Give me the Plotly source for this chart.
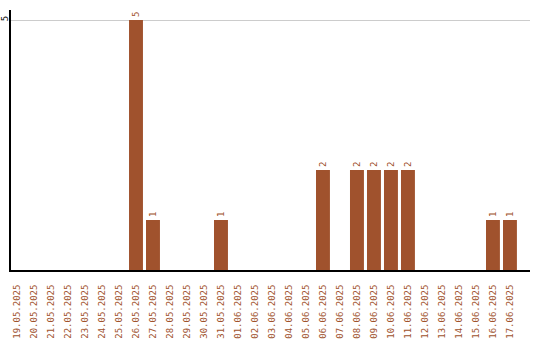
import plotly.graph_objects as go

dates = ["19.05.2025","20.05.2025","21.05.2025","22.05.2025","23.05.2025","24.05.2025",
         "25.05.2025","26.05.2025","27.05.2025","28.05.2025","29.05.2025","30.05.2025",
         "31.05.2025","01.06.2025","02.06.2025","03.06.2025","04.06.2025","05.06.2025",
         "06.06.2025","07.06.2025","08.06.2025","09.06.2025","10.06.2025","11.06.2025",
         "12.06.2025","13.06.2025","14.06.2025","15.06.2025","16.06.2025","17.06.2025"]
counts = [0,0,0,0,0,0,0,5,1,0,0,0,1,0,0,0,0,0,2,0,2,2,2,2,0,0,0,0,1,1]

color = "#A0522D"
labels = [str(v) if v > 0 else "" for v in counts]

fig = go.Figure(go.Bar(
    x=dates, y=counts, marker_color=color, marker_line_width=0,
    width=0.82, text=labels, textposition="outside", textangle=-90,
    textfont=dict(color=color, size=9, family="DejaVu Sans Mono"),
    cliponaxis=False,
))
fig.update_layout(
    width=540, height=340, margin=dict(l=11, r=10, t=10, b=70, autoexpand=False),
    plot_bgcolor="white", paper_bgcolor="white", showlegend=False,
    font=dict(family="DejaVu Sans Mono", size=9),
)
fig.update_xaxes(type="category", range=[-0.353, 30.18], tickangle=-90,
                 tickfont=dict(color=color, size=9, family="DejaVu Sans Mono"),
                 showline=True, linecolor="black", linewidth=2, showgrid=False,
                 ticks="", ticklabelstandoff=9, automargin=False)
fig.update_yaxes(range=[0, 5.2], tickvals=[5], ticktext=["5"], tickangle=-90,
                 tickfont=dict(color="black", size=9, family="DejaVu Sans Mono"),
                 showline=True, linecolor="black", linewidth=2,
                 showgrid=True, gridcolor="#cccccc", gridwidth=1, zeroline=False,
                 ticks="", ticklabelstandoff=-3, automargin=False)
fig.write_html("out.html")
